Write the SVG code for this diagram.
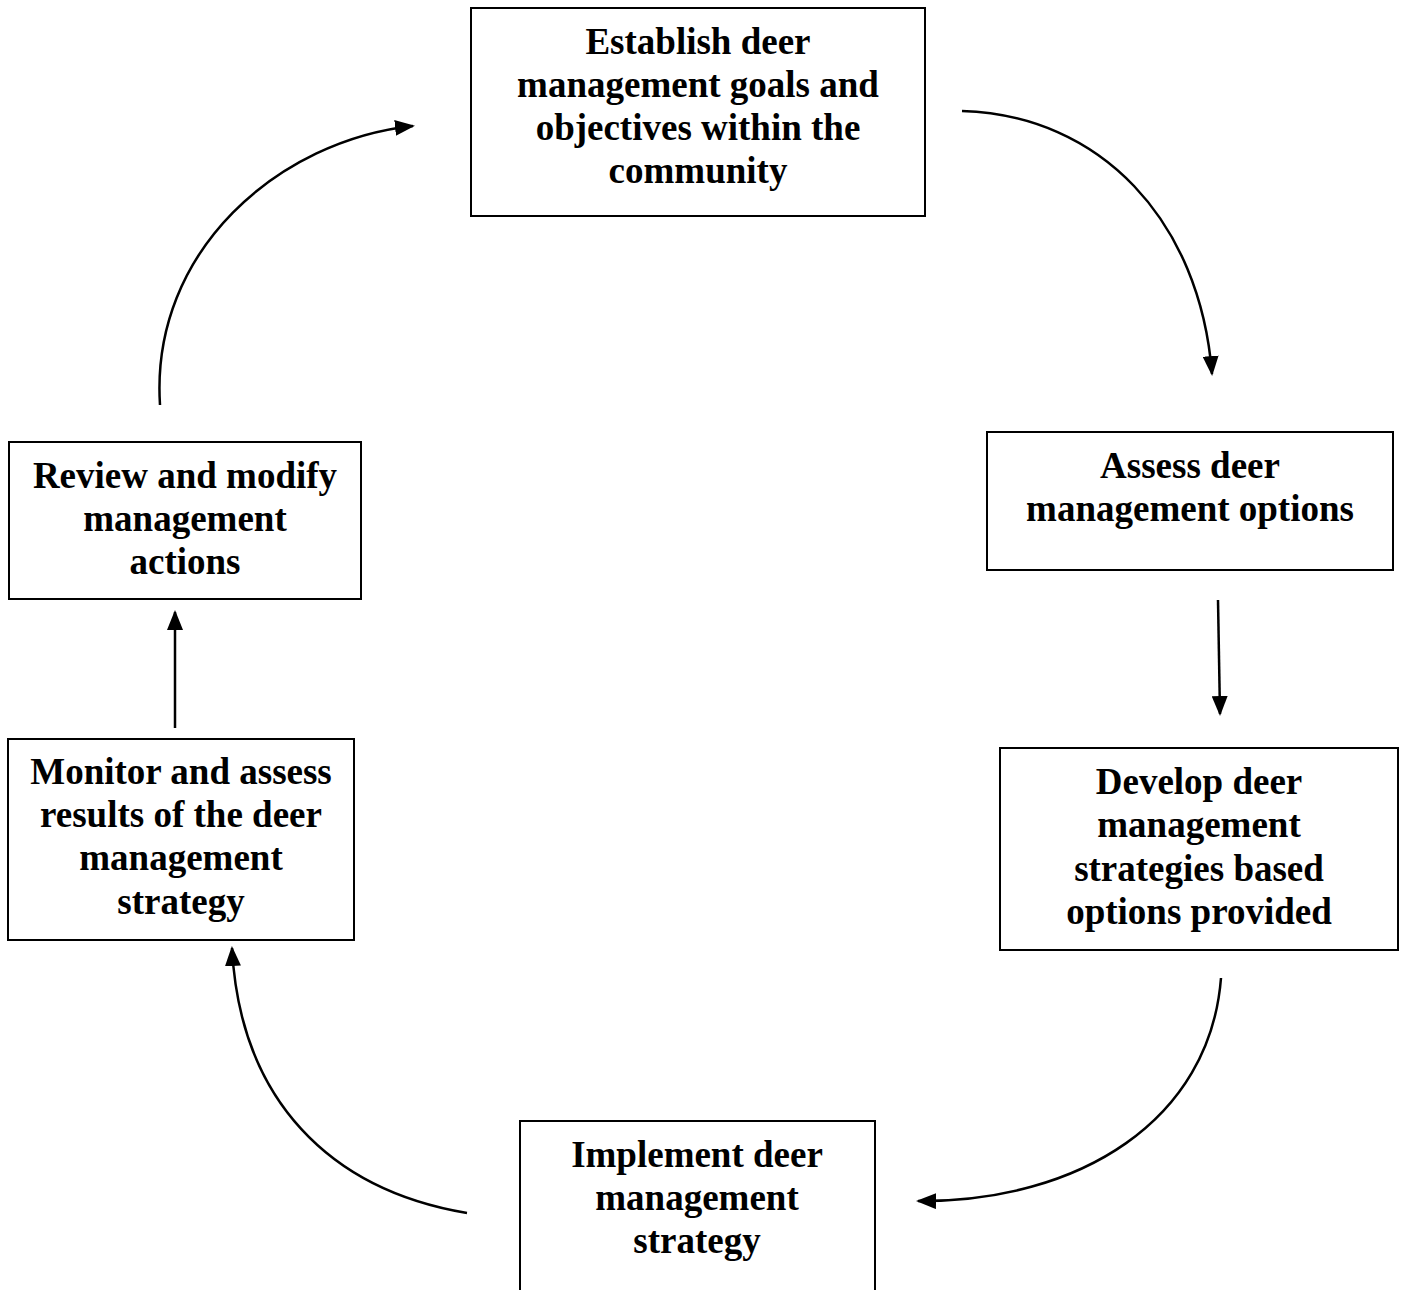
<svg xmlns="http://www.w3.org/2000/svg" width="1405" height="1290" viewBox="0 0 1405 1290">
<style>
.box{fill:#fff;stroke:#000;stroke-width:2}
.t{font-family:"Liberation Serif","Times New Roman",serif;font-weight:bold;font-size:37px;text-anchor:middle;fill:#000}
.c{fill:none;stroke:#000;stroke-width:2.5}
</style>
<defs>
<marker id="ah" markerWidth="20" markerHeight="16" refX="18" refY="8" orient="auto" markerUnits="userSpaceOnUse">
<path d="M0,0 L20,8 L0,16 Z" fill="#000"/>
</marker>
</defs>
<rect width="1405" height="1290" fill="#fff"/>
<g id="n1">
<rect class="box" x="471" y="8" width="454" height="208"/>
<text class="t" x="698" y="54">Establish deer</text>
<text class="t" x="698" y="97">management goals and</text>
<text class="t" x="698" y="140">objectives within the</text>
<text class="t" x="698" y="183">community</text>
</g>
<g id="n2">
<rect class="box" x="987" y="432" width="406" height="138"/>
<text class="t" x="1190" y="478">Assess deer</text>
<text class="t" x="1190" y="521">management options</text>
</g>
<g id="n3">
<rect class="box" x="1000" y="748" width="398" height="202"/>
<text class="t" x="1199" y="794">Develop deer</text>
<text class="t" x="1199" y="837">management</text>
<text class="t" x="1199" y="881">strategies based</text>
<text class="t" x="1199" y="924">options provided</text>
</g>
<g id="n4">
<path class="box" d="M520,1292 L520,1121 L875,1121 L875,1292"/>
<text class="t" x="697" y="1167">Implement deer</text>
<text class="t" x="697" y="1210">management</text>
<text class="t" x="697" y="1253">strategy</text>
</g>
<g id="n5">
<rect class="box" x="8" y="739" width="346" height="201"/>
<text class="t" x="181" y="784">Monitor and assess</text>
<text class="t" x="181" y="827">results of the deer</text>
<text class="t" x="181" y="870">management</text>
<text class="t" x="181" y="914">strategy</text>
</g>
<g id="n6">
<rect class="box" x="9" y="442" width="352" height="157"/>
<text class="t" x="185" y="488">Review and modify</text>
<text class="t" x="185" y="531">management</text>
<text class="t" x="185" y="574">actions</text>
</g>
<g id="connectors">
<path class="c" marker-end="url(#ah)" d="M962,111 C1100,115 1200,220 1212,374"/>
<path class="c" marker-end="url(#ah)" d="M1218,600 L1220,714"/>
<path class="c" marker-end="url(#ah)" d="M1221,978 C1210,1120 1080,1202 918,1201"/>
<path class="c" marker-end="url(#ah)" d="M467,1213 C330,1190 240,1100 232,948"/>
<path class="c" marker-end="url(#ah)" d="M175,728 L175,612"/>
<path class="c" marker-end="url(#ah)" d="M160,405 C150,250 280,140 413,126"/>
</g>
</svg>
